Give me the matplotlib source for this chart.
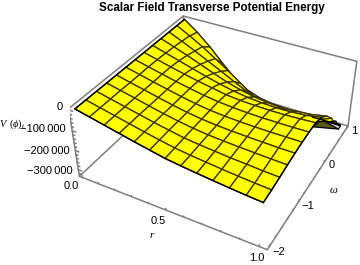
import numpy as np
import matplotlib
matplotlib.use("Agg")
import matplotlib.pyplot as plt
from mpl_toolkits.mplot3d.art3d import Poly3DCollection

# --- Data ---
r_nodes = [i / 12 for i in range(13)]
omega_nodes = [-2, -1.75, -1.5, -1.25, -1, -0.75, -0.5, -0.25, 0, 0.25, 0.5, 0.75, 1]

# V in thousands, one row per omega node, r = 0 ... 1 along the row
v_rows = [
    [0, -15, -30, -45, -60, -74, -88, -97, -105, -112, -119, -125, -130],
    [0, -15, -30, -45, -60, -74, -87, -96, -103, -110, -116, -121, -125],
    [0, -15, -30, -45, -60, -73, -86, -94, -100, -106, -110, -115, -118],
    [0, -15, -30, -46, -61, -74, -85, -93, -98, -102, -105, -108, -110],
    [0, -16, -31, -47, -62, -75, -85, -92, -96, -99, -101, -103, -103],
    [0, -16, -32, -47, -62, -75, -85, -91, -95, -97, -98, -98, -98],
    [0, -16, -32, -48, -62, -75, -85, -91, -95, -97, -97, -97, -95],
    [0, -17, -34, -50, -65, -78, -91, -98, -101, -103, -102, -99, -95],
    [0, -20, -40, -60, -80, -98, -113, -124, -130, -133, -131, -126, -112],
    [0, -24, -49, -76, -103, -128, -148, -163, -172, -178, -172, -165, -150],
    [0, -30, -62, -96, -130, -165, -200, -225, -245, -255, -250, -235, -205],
    [0, -36, -75, -120, -165, -215, -265, -295, -312, -320, -318, -305, -295],
    [0, -50, -110, -180, -245, -290, -315, -327, -332, -333, -333, -332, -330],
]

# dark underside seen past the r = 1 edge
fold_omega = [-0.4, -0.1, 0.1, 0.3, 0.5, 0.7, 0.82, 0.9]
fold_v = [-85, -112, -148, -188, -218, -252, -295, -333]

# pale sliver beside the far corner: r, omega, V
sliver_r = [0.90, 1.0, 1.0]
sliver_omega = [1.0, 1.0, 0.9]
sliver_v = [-333, -333, -333]

# axis limits and ticks
r_lim = [-0.02, 1.04]
omega_lim = [-2.06, 1.06]
v_lim = [-336, 6]

v_major = [0, -100, -200, -300]
v_minor = [-20, -40, -60, -80, -120, -140, -160, -180, -220, -240, -260, -280, -320]
r_major = [0.0, 0.5, 1.0]
r_minor = [0.1, 0.2, 0.3, 0.4, 0.6, 0.7, 0.8, 0.9]
omega_major = [-2, -1, 0, 1]
omega_minor = [-1.8, -1.6, -1.4, -1.2, -0.8, -0.6, -0.4, -0.2, 0.2, 0.4, 0.6, 0.8]

v_labels = ["0", "\u2212100\u2009000", "\u2212200\u2009000", "\u2212300\u2009000"]
r_labels = ["0.0", "0.5", "1.0"]
omega_labels = ["\u22122", "\u22121", "0", "1"]

W, H = 360, 265
BOX_COLOR = "#7f7f7f"
YELLOW = "#ffff00"
MESH = "#3c3400"
FOLD = "#5a5618"
SLIVER = "#d4d6cc"

plt.rcParams["font.family"] = ["Liberation Sans", "DejaVu Sans"]
plt.rcParams["mathtext.fontset"] = "custom"
plt.rcParams["mathtext.it"] = "Liberation Serif:italic"
plt.rcParams["mathtext.rm"] = "Liberation Serif"

fig = plt.figure(figsize=(W / 100, H / 100), dpi=100)

# square 3D axes centred on the projected box centre
side = 292
cx, cy = 216, 122
ax = fig.add_axes([(cx - side / 2) / W, 1 - (cy + side / 2) / H, side / W, side / H],
                  projection="3d")
ax.set_box_aspect((1, 1, 0.4))
ax.set_proj_type("persp", focal_length=0.438)
ax.view_init(elev=36.2, azim=-61.6)
ax.computed_zorder = False
ax.set_axis_off()
ax.patch.set_alpha(0)
ax.set_xlim(*r_lim, view_margin=0)
ax.set_ylim(*omega_lim, view_margin=0)
ax.set_zlim(*v_lim, view_margin=0)

r0, r1 = r_lim
w0, w1 = omega_lim
z0, z1 = v_lim


def box_line(xs, ys, zs, zorder=1):
    ax.plot(xs, ys, zs, color=BOX_COLOR, lw=1.1, zorder=zorder, solid_capstyle="round")


# --- Box edges, front ones are left out ---
box_line([r0, r0], [w0, w0], [z0, z1])
box_line([r0, r1], [w0, w0], [z0, z0])
box_line([r1, r1], [w0, w1], [z0, z0])
box_line([r1, r1], [w1, w1], [z0, z1])
box_line([r0, r0], [w0, w1], [z1, z1])
box_line([r0, r1], [w1, w1], [z1, z1])
box_line([r0, r0], [w0, w1], [z0, z0])
box_line([r0, r1], [w1, w1], [z0, z0])
box_line([r0, r0], [w1, w1], [z0, z1])

# --- Tick marks ---
for v in v_major + v_minor:
    dr = 0.022 if v in v_major else 0.012
    box_line([r0, r0 + dr], [w0, w0], [v, v])
for r in r_major + r_minor:
    dv = 9 if r in r_major else 5
    box_line([r, r], [w0, w0], [z0, z0 + dv])
for w in omega_major + omega_minor:
    dv = 9 if w in omega_major else 5
    box_line([r1, r1], [w, w], [z0, z0 + dv])

# --- Surface ---
R, O = np.meshgrid(r_nodes, omega_nodes)
V = np.array(v_rows, dtype=float)
ax.plot(R[-1], O[-1], V[-1], color="black", lw=1.0, zorder=1.5)
ax.plot_surface(R, O, V, color=YELLOW, shade=False, rstride=1, cstride=1,
                edgecolor=MESH, linewidth=0.95, zorder=2)

# outer edges of the surface
ax.plot(R[:, 0], O[:, 0], V[:, 0], color="black", lw=1.0, zorder=3)
ax.plot(R[0], O[0], V[0], color="black", lw=1.0, zorder=3)
ax.plot(R[:9, -1], O[:9, -1], V[:9, -1], color="black", lw=1.0, zorder=3)

# --- Underside and sliver at the far corner ---
fold_verts = [list(zip([r_nodes[-1]] * len(fold_omega), fold_omega, fold_v))]
ax.add_collection3d(Poly3DCollection(fold_verts, facecolors=FOLD, edgecolors="black",
                                     linewidths=0.9, zorder=4))
sliver_verts = [list(zip(sliver_r, sliver_omega, sliver_v))]
ax.add_collection3d(Poly3DCollection(sliver_verts, facecolors=SLIVER, edgecolors="black",
                                     linewidths=0.9, zorder=4))
ax.plot(R[-1][10:], O[-1][10:], V[-1][10:], color="black", lw=1.0, zorder=5)


def px_text(x, y, s, **kw):
    kw.setdefault("fontsize", 8)
    kw.setdefault("ha", "center")
    kw.setdefault("va", "center")
    fig.text(x / W, 1 - y / H, s, **kw)


# --- Text ---
px_text(212, 8, "Scalar Field Transverse Potential Energy", fontsize=8.4, fontweight="bold")
for (x, y), s in zip([(63, 107), (66, 129), (70, 151), (73, 171)], v_labels):
    px_text(x, y, s, ha="right")
for (x, y), s in zip([(71, 186), (158, 221), (257, 258)], r_labels):
    px_text(x, y, s)
for (x, y), s in zip([(279, 252), (308, 206), (332, 165), (354, 131)], omega_labels):
    px_text(x, y, s)
px_text(12, 124, r"$V\ \,(\phi)_t$", fontsize=7.5)
px_text(152, 235, r"$r$", fontsize=8)
px_text(334, 190, r"$\omega$", fontsize=8)

fig.savefig("out.png", dpi=100)
